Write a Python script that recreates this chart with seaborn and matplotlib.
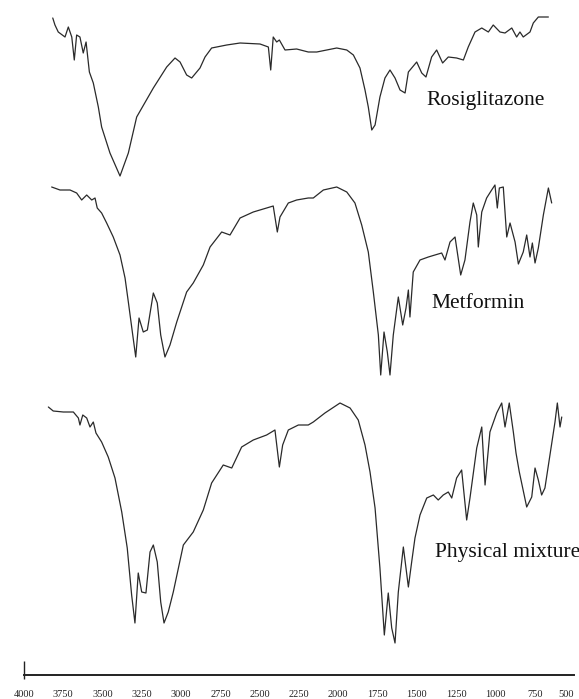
import numpy as np
import pandas as pd
import matplotlib
matplotlib.use("Agg")
import matplotlib.pyplot as plt
import seaborn as sns

# ---- data (wavenumber cm-1, transmittance a.u.) ----
rosi_wn = [3817, 3803, 3782, 3739, 3718, 3696, 3680, 3665, 3644, 3623, 3605, 3584, 3559,
           3527, 3506, 3453, 3389, 3336, 3283, 3177, 3092, 3039, 3007, 2965, 2933, 2880,
           2848, 2806, 2710, 2625, 2498, 2445, 2430, 2414, 2392, 2375, 2339, 2265, 2191,
           2137, 2010, 1946, 1904, 1862, 1830, 1809, 1787, 1766, 1735, 1703, 1671, 1639,
           1607, 1575, 1554, 1501, 1469, 1442, 1406, 1374, 1336, 1300, 1247, 1204, 1173,
           1130, 1087, 1045, 1014, 971, 939, 896, 865, 844, 823, 780, 759, 727, 663]
rosi_t = [182, 175, 168, 163, 173, 163, 140, 165, 163, 147, 158, 128, 117,
          93, 73, 47, 24, 47, 83, 112, 133, 142, 138, 125, 122, 132,
          143, 152, 155, 157, 156, 153, 130, 163, 158, 160, 150, 151, 148,
          148, 152, 150, 145, 132, 110, 93, 70, 75, 103, 122, 130, 122,
          110, 107, 128, 138, 127, 123, 143, 150, 137, 143, 142, 140, 153,
          168, 172, 168, 175, 168, 167, 172, 163, 168, 163, 168, 177, 183, 183]

met_wn = [3824, 3771, 3707, 3665, 3633, 3601, 3569, 3548, 3534, 3506, 3474, 3432, 3389,
          3357, 3336, 3308, 3289, 3268, 3241, 3215, 3177, 3152, 3130, 3103, 3071, 3028,
          2965, 2923, 2859, 2816, 2742, 2689, 2625, 2541, 2456, 2414, 2388, 2371, 2318,
          2265, 2191, 2159, 2095, 2010, 1946, 1894, 1851, 1809, 1777, 1745, 1730, 1709,
          1688, 1671, 1650, 1618, 1590, 1569, 1554, 1544, 1523, 1480, 1427, 1385, 1342,
          1321, 1289, 1257, 1221, 1194, 1162, 1141, 1119, 1109, 1087, 1056, 1024, 1003,
          988, 975, 950, 928, 907, 875, 854, 823, 801, 780, 765, 748, 727, 695, 663, 642]
met_t = [233, 230, 230, 227, 220, 225, 220, 222, 212, 207, 197, 183, 165,
         142, 118, 85, 63, 102, 88, 90, 127, 117, 85, 63, 75, 98,
         128, 137, 155, 173, 188, 185, 202, 208, 212, 214, 188, 203, 217,
         220, 222, 222, 230, 233, 228, 217, 195, 168, 128, 85, 45, 88,
         68, 45, 85, 123, 95, 112, 130, 103, 148, 160, 163, 165, 167,
         160, 178, 183, 145, 160, 198, 217, 205, 173, 208, 222, 230, 235,
         212, 232, 233, 183, 197, 178, 156, 168, 185, 163, 177, 157, 172, 205, 232, 217]

mix_wn = [3845, 3814, 3750, 3686, 3654, 3644, 3626, 3601, 3580, 3559, 3542, 3506, 3464,
          3421, 3378, 3343, 3315, 3294, 3273, 3251, 3224, 3198, 3177, 3152, 3130, 3109,
          3082, 3050, 2986, 2923, 2859, 2806, 2732, 2678, 2615, 2541, 2456, 2403, 2375,
          2354, 2318, 2254, 2191, 2159, 2085, 1989, 1925, 1873, 1830, 1798, 1766, 1735,
          1707, 1682, 1660, 1639, 1618, 1586, 1554, 1533, 1512, 1480, 1437, 1395, 1364,
          1332, 1300, 1278, 1247, 1215, 1183, 1162, 1119, 1087, 1066, 1035, 992, 960,
          939, 912, 886, 869, 848, 801, 769, 748, 727, 706, 685, 653, 621, 606, 589, 578]
mix_t = [243, 239, 238, 238, 232, 225, 235, 232, 223, 228, 217, 208, 193,
         172, 138, 102, 55, 27, 77, 58, 57, 98, 105, 88, 48, 27,
         38, 58, 105, 118, 140, 167, 185, 182, 203, 210, 215, 220, 183,
         205, 220, 225, 225, 228, 237, 247, 242, 230, 205, 178, 142, 82,
         15, 57, 22, 7, 58, 103, 63, 88, 112, 135, 152, 155, 150,
         155, 158, 152, 172, 180, 130, 152, 202, 223, 165, 218, 237, 247,
         223, 247, 218, 197, 178, 143, 153, 182, 170, 155, 162, 195, 228, 247, 223, 233]

labels = ["Rosiglitazone", "Metformin", "Physical mixture"]
x_ticks = [4000, 3750, 3500, 3250, 3000, 2750, 2500, 2250, 2000, 1750, 1500, 1250, 1000, 750, 500]

# ---- figure ----
sns.set_theme(style="white")
plt.rcParams["font.family"] = ["Liberation Serif", "DejaVu Serif"]

W, H = 579, 699
fig = plt.figure(figsize=(W / 100, H / 100), dpi=100)
ax = fig.add_axes([24 / W, 24 / H, 550 / W, 675 / H])

offsets = [475, 255, 25]
frames = []
for name, wn, t, off in zip(labels, [rosi_wn, met_wn, mix_wn],
                            [rosi_t, met_t, mix_t], offsets):
    frames.append(pd.DataFrame({"wn": wn, "y": np.asarray(t) + off, "sample": name}))
df = pd.concat(frames, ignore_index=True)

sns.lineplot(data=df, x="wn", y="y", units="sample", estimator=None, sort=True,
             color="#2a2a2a", linewidth=0.9, ax=ax, legend=False)

ax.set_xlim(4000, 500)
ax.set_ylim(0, 675)

# sample labels
text_kw = dict(fontsize=15.5, color="#111111", va="center", ha="left")
ax.text(1440, 575, labels[0], **text_kw)
ax.text(1410, 372, labels[1], **text_kw)
ax.text(1386, 123, labels[2], **text_kw)

# axis styling: only bottom axis
for s in ["top", "right", "left"]:
    ax.spines[s].set_visible(False)
ax.spines["bottom"].set_color("#222222")
ax.spines["bottom"].set_linewidth(1.4)
ax.set_xticks(x_ticks)
ax.set_xticklabels([str(v) for v in x_ticks])
ax.tick_params(axis="x", direction="out", length=4, width=0.8, color="#333333",
               pad=7, labelsize=7.5, labelcolor="#222222")
ax.get_xticklabels()[-1].set_horizontalalignment("right")
ax.tick_params(axis="y", left=False, labelleft=False)
ax.vlines(4000, -4, 14, color="#222222", linewidth=1.0, clip_on=False)
ax.set_xlabel("")
ax.set_ylabel("")
ax.grid(False)

fig.savefig("out.png", dpi=100)
